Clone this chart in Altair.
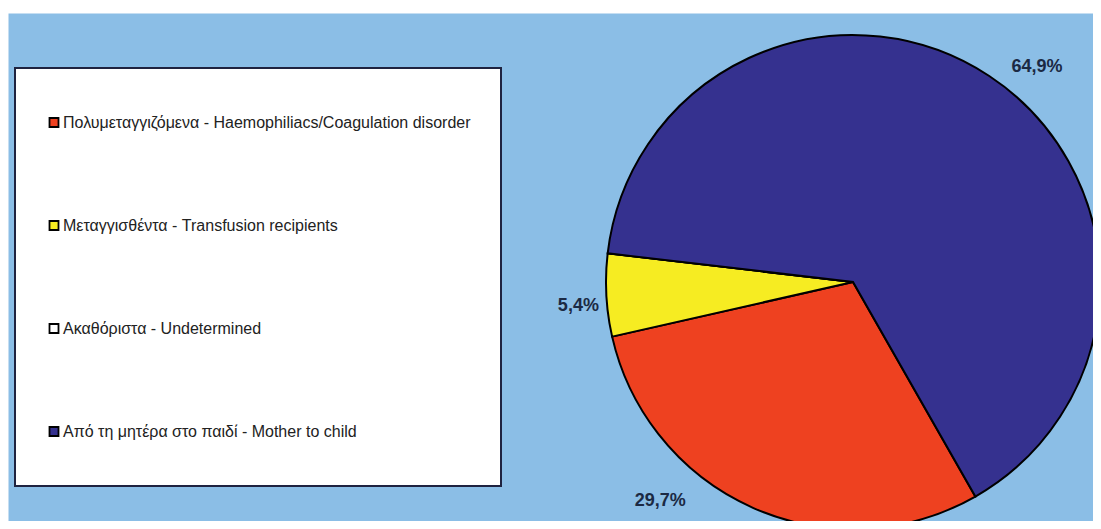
import math
import altair as alt
import pandas as pd

categories = [
    "Πολυμεταγγιζόμενα - Haemophiliacs/Coagulation disorder",
    "Μεταγγισθέντα - Transfusion recipients",
    "Ακαθόριστα - Undetermined",
    "Από τη μητέρα στο παιδί - Mother to child",
]
shares = [29.7, 5.4, 0.0, 64.9]
labels = ["29,7%", "5,4%", "", "64,9%"]
colors = ["#EE4120", "#F6EC22", "#FFFFFF", "#35318F"]

df = pd.DataFrame({"category": categories, "share": shares, "label": labels,
                   "idx": list(range(len(categories)))})

start = math.radians(150.3)
theta_scale = alt.Scale(range=[start, start + 2 * math.pi])
CX, CY = 845, 269

legend = alt.Legend(
    orient="none", legendX=7, legendY=55, padding=3,
    fillColor="white", strokeColor="#1F2340",
    clipHeight=103, rowPadding=0,
    symbolType="square", symbolSize=81, symbolStrokeColor="black", symbolStrokeWidth=1.8,
    symbolOffset=28, labelOffset=1, labelFontSize=16, labelFont="Liberation Sans",
    labelColor="#222222", labelLimit=0,
    title="\u00a0", titleOrient="right", titlePadding=27, titleFontSize=2,
)

pie = alt.Chart(df).mark_arc(radius=247, stroke="black", strokeWidth=2).encode(
    theta=alt.Theta("share:Q", stack=True, scale=theta_scale),
    color=alt.Color("category:N", scale=alt.Scale(domain=categories, range=colors), legend=legend),
    order=alt.Order("idx:Q"),
    x=alt.value(CX), y=alt.value(CY),
)

base_text = alt.Chart(df).transform_stack(
    stack="share", groupby=[], as_=["s0", "s1"], sort=[alt.SortField("idx")]
).transform_calculate(mid="(datum.s0 + datum.s1) / 2")

offsets = {0: (-84, -28), 1: (-5, 10), 3: (35, 10)}
text_layers = []
for i, (ddx, ddy) in offsets.items():
    text_layers.append(
        base_text.transform_filter(alt.datum.idx == i).mark_text(
            fontSize=18, fontWeight="bold", font="Liberation Sans", color="#1B2A44",
            align="center", baseline="middle", dx=ddx, dy=ddy,
        ).encode(
            theta=alt.Theta("mid:Q", scale=theta_scale),
            radius=alt.value(270),
            text="label:N",
            x=alt.value(CX), y=alt.value(CY),
        )
    )

chart = alt.layer(pie, *text_layers).properties(
    width=1085, height=508,
    autosize=alt.AutoSizeParams(type="none"),
    padding={"left": 0, "top": 5, "right": 0, "bottom": 0},
    background="white",
).configure_view(fill="#8BBEE6", stroke="transparent").configure_legend(strokeWidth=2)

chart.save("out.html", embed_options={"renderer": "svg", "actions": False})
